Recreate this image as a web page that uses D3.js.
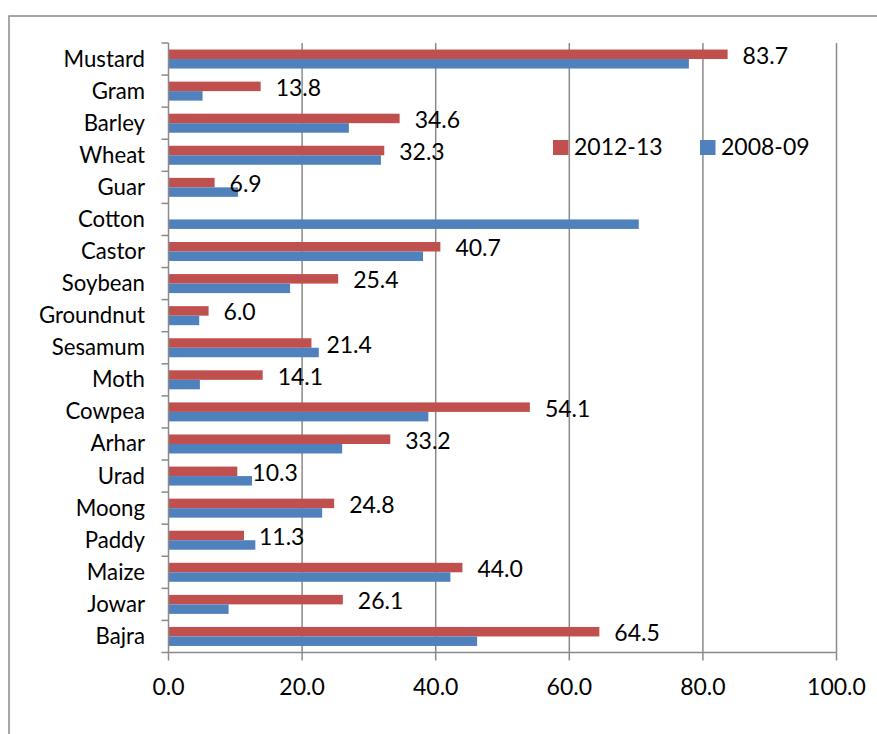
<!DOCTYPE html>
<html>
<head>
<meta charset="utf-8">
<script src="https://cdn.jsdelivr.net/npm/d3@7"></script>
<style>
  html, body { margin: 0; padding: 0; background: #fff; }
  svg { display: block; }
  text { font-family: Lato, "Open Sans", sans-serif; fill: #000; }
</style>
</head>
<body>
<svg id="chart" width="877" height="734"></svg>
<script>
// Crops, top to bottom as listed on the axis
const crops = ["Mustard", "Gram", "Barley", "Wheat", "Guar", "Cotton", "Castor",
  "Soybean", "Groundnut", "Sesamum", "Moth", "Cowpea", "Arhar", "Urad",
  "Moong", "Paddy", "Maize", "Jowar", "Bajra"];

// 2012-13 values (labelled); Cotton has no value for this year
const values2012 = [83.7, 13.8, 34.6, 32.3, 6.9, null, 40.7,
  25.4, 6.0, 21.4, 14.1, 54.1, 33.2, 10.3,
  24.8, 11.3, 44.0, 26.1, 64.5];

// 2008-09 values
const values2008 = [77.9, 5.1, 27.0, 31.8, 10.4, 70.4, 38.1,
  18.2, 4.6, 22.5, 4.7, 38.9, 26.0, 12.5,
  23.0, 13.0, 42.2, 9.0, 46.2];

const seriesNames = ["2012-13", "2008-09"];
const seriesColors = ["#C0504D", "#4F81BD"];
const xTicks = [0, 20, 40, 60, 80, 100];

const svg = d3.select("#chart");
const gridColor = "#8a8a8a";

// Outer chart frame
svg.append("rect")
  .attr("x", 9).attr("y", 16)
  .attr("width", 900).attr("height", 760)
  .attr("fill", "none").attr("stroke", gridColor).attr("stroke-width", 1.5);

const plot = { left: 168.5, right: 836.5, top: 43, bottom: 652.5 };

const x = d3.scaleLinear().domain([0, 100]).range([plot.left, plot.right]);
const y = d3.scaleBand().domain(crops).range([plot.top, plot.bottom])
  .paddingInner(0.408).paddingOuter(0.204);
const ySub = d3.scaleBand().domain(seriesNames).range([0, y.bandwidth()]);

// Vertical gridlines
svg.append("g").selectAll("line")
  .data(xTicks.slice(1))
  .join("line")
  .attr("x1", d => x(d)).attr("x2", d => x(d))
  .attr("y1", plot.top).attr("y2", plot.bottom)
  .attr("stroke", gridColor).attr("stroke-width", 1.5);

// Bars
const rows = crops.map((c, i) => ({ crop: c, vals: [values2012[i], values2008[i]] }));
const groups = svg.append("g").selectAll("g")
  .data(rows)
  .join("g")
  .attr("transform", d => `translate(0,${y(d.crop)})`);

groups.selectAll("rect")
  .data(d => d.vals.map((v, k) => ({ v, k })).filter(e => e.v != null))
  .join("rect")
  .attr("x", x(0))
  .attr("y", e => ySub(seriesNames[e.k]))
  .attr("width", e => x(e.v) - x(0))
  .attr("height", ySub.bandwidth())
  .attr("fill", e => seriesColors[e.k]);

// Value labels for the 2012-13 series
groups.filter(d => d.vals[0] != null)
  .append("text")
  .attr("x", d => x(d.vals[0]) + 15)
  .attr("y", ySub(seriesNames[0]) + ySub.bandwidth() / 2 + 9.5)
  .attr("font-size", 23)
  .text(d => d3.format(".1f")(d.vals[0]));

// Y axis: line, ticks at category boundaries, labels
const yAxis = svg.append("g");
yAxis.append("line")
  .attr("x1", plot.left).attr("x2", plot.left)
  .attr("y1", plot.top).attr("y2", plot.bottom)
  .attr("stroke", gridColor).attr("stroke-width", 1.5);
const step = y.step();
yAxis.selectAll("line.tick")
  .data(d3.range(crops.length + 1))
  .join("line")
  .attr("class", "tick")
  .attr("x1", plot.left - 7).attr("x2", plot.left)
  .attr("y1", i => plot.top + i * step).attr("y2", i => plot.top + i * step)
  .attr("stroke", gridColor).attr("stroke-width", 1.5);
yAxis.selectAll("text")
  .data(crops)
  .join("text")
  .attr("x", 145)
  .attr("y", d => y(d) + y.bandwidth() / 2 + 7.5)
  .attr("text-anchor", "end")
  .attr("font-size", 22.2)
  .text(d => d);

// X axis
const xAxis = svg.append("g");
xAxis.append("line")
  .attr("x1", plot.left).attr("x2", plot.right)
  .attr("y1", plot.bottom).attr("y2", plot.bottom)
  .attr("stroke", gridColor).attr("stroke-width", 1.5);
xAxis.selectAll("line.tick")
  .data(xTicks)
  .join("line")
  .attr("class", "tick")
  .attr("x1", d => x(d)).attr("x2", d => x(d))
  .attr("y1", plot.bottom).attr("y2", plot.bottom + 8)
  .attr("stroke", gridColor).attr("stroke-width", 1.5);
xAxis.selectAll("text")
  .data(xTicks)
  .join("text")
  .attr("x", d => x(d))
  .attr("y", 695)
  .attr("text-anchor", "middle")
  .attr("font-size", 23)
  .text(d => d3.format(".1f")(d));

// Legend
const legendPos = [{ sx: 553, tx: 574 }, { sx: 700, tx: 721 }];
const legend = svg.append("g").selectAll("g")
  .data(seriesNames)
  .join("g");
legend.append("rect")
  .attr("x", (d, i) => legendPos[i].sx).attr("y", 140)
  .attr("width", 15.5).attr("height", 15)
  .attr("fill", (d, i) => seriesColors[i]);
legend.append("text")
  .attr("x", (d, i) => legendPos[i].tx).attr("y", 155)
  .attr("font-size", 23)
  .text(d => d);
</script>
</body>
</html>
